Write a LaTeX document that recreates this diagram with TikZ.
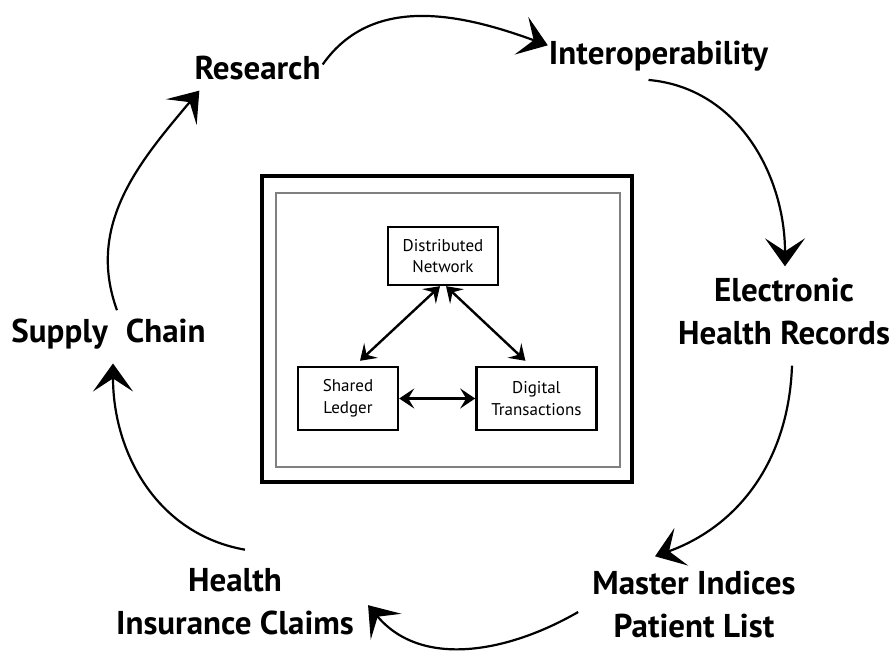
\documentclass[tikz,border=0pt]{standalone}
\usepackage{fontspec}
\setmainfont{PT Sans}
\usetikzlibrary{arrows.meta,positioning}

\begin{document}
\begin{tikzpicture}[x=1pt,y=1pt,
    stage/.style={font=\fontsize{33}{43}\selectfont\bfseries, inner sep=0pt, align=center},
    block/.style={draw, line width=2.4pt, font=\fontsize{17}{21.5}\selectfont, align=center, inner sep=0pt},
    flow/.style={line width=2.2pt, -{Stealth[length=28pt,width=40pt,inset=13pt]}},
    link/.style={line width=2.4pt, {Stealth[length=15pt,width=20pt,inset=6pt]}-{Stealth[length=15pt,width=20pt,inset=6pt]}}]
    \useasboundingbox (0,0) rectangle (896,652);
    \draw[line width=3.5pt] (262,170) rectangle (632,476);
    \draw[line width=1.5pt, gray] (276,185) rectangle (620,459);

    \node[block, minimum width=110pt, minimum height=58pt] (dn) at (443,396) {Distributed\\Network};
    \node[block, minimum width=100pt, minimum height=63pt] (sl) at (348,253.5) {Shared\\Ledger};
    \node[block, minimum width=120pt, minimum height=63pt, right=76pt of sl] (dt) {Digital\\Transactions};

    \draw[link] ([xshift=-3pt]dn.south) -- ([xshift=12pt,yshift=5pt]sl.north);
    \draw[link] ([xshift=3pt]dn.south) -- ([xshift=-11pt,yshift=5pt]dt.north);
    \draw[link] (sl.east) -- (dt.west);

    \node[stage, anchor=base] (research) at (257.5,572) {Research};
    \node[stage, anchor=base] (interop) at (658.5,587) {Interoperability};
    \node[stage, anchor=base] (supply) at (108.5,309) {Supply\hspace{18pt}Chain};
    \node[stage, anchor=base] (ehr) at (784,307) {Electronic\\Health Records};
    \node[stage, anchor=base] (master) at (694,14) {Master Indices\\Patient List};
    \node[stage, anchor=base] (health) at (235,17) {Health\\Insurance Claims};

    \draw[flow] ([shift={(2,4)}]research.east) to[out=55,in=160] ([shift={(-1,-4)}]interop.north west);
    \draw[flow] ([shift={(-10,-8)}]interop.south) to[out=-5,in=90] ([shift={(1,12)}]ehr.north);
    \draw[flow] ([shift={(8,-20)}]ehr.south) to[out=-92,in=20] ([shift={(-39,15)}]master.north);
    \draw[flow] ([shift={(-14,-7)}]master.west) to[out=210,in=310] ([shift={(14,-3)}]health.east);
    \draw[flow] ([shift={(10,19)}]health.north) to[out=170,in=-90] ([shift={(4.5,-13.5)}]supply.south);
    \draw[flow] ([shift={(8.5,9)}]supply.north) to[out=110,in=230] ([shift={(5,-10)}]research.south west);
\end{tikzpicture}
\end{document}
